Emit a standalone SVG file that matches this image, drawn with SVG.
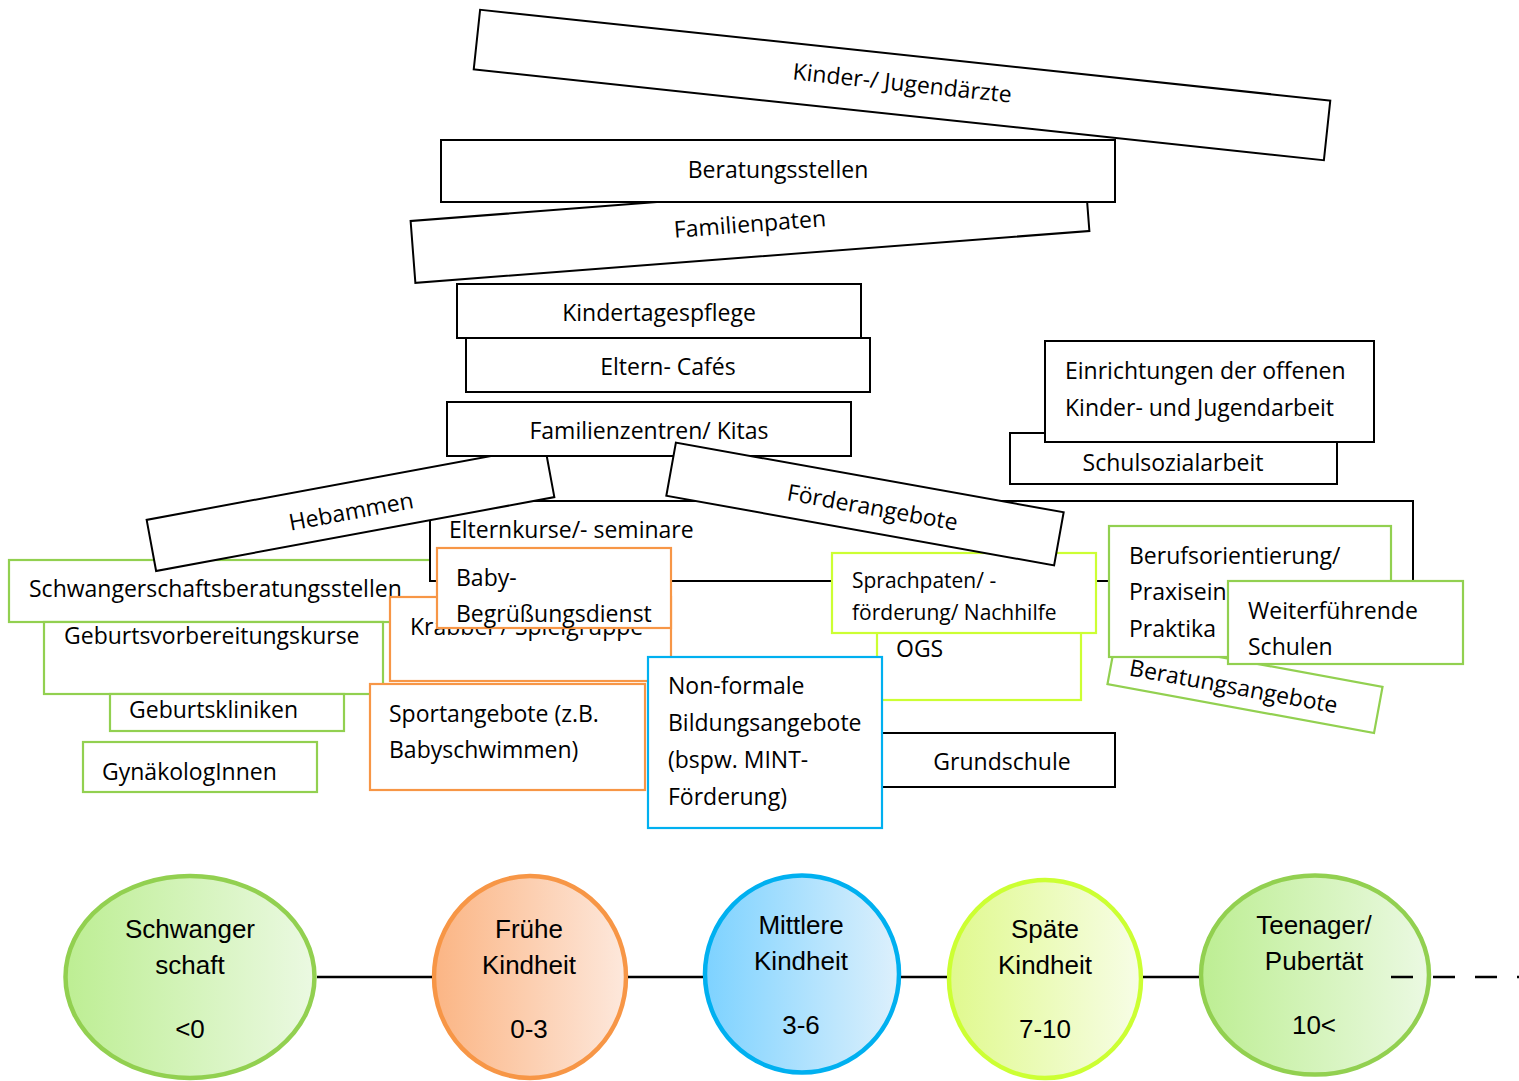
<svg xmlns="http://www.w3.org/2000/svg" width="1519" height="1081" viewBox="0 0 1519 1081">
<style>
.b{fill:#fff;stroke:#000;stroke-width:2}
.g{fill:#fff;stroke:#92d050;stroke-width:2.2}
.o{fill:#fff;stroke:#f79646;stroke-width:2.2}
.c{fill:#fff;stroke:#00b0f0;stroke-width:2.2}
.y{fill:#fff;stroke:#ccff33;stroke-width:2.2}
.t{font-family:"Open Sans","Noto Sans",sans-serif;font-size:23px;fill:#000}
.s{font-family:"Open Sans","Noto Sans",sans-serif;font-size:21px;fill:#000}
.m{text-anchor:middle}
.e{font-family:"Liberation Sans",Arial,sans-serif;font-size:26px;fill:#000;text-anchor:middle}
.ln{stroke:#000;stroke-width:2.5;fill:none}
</style>
<defs>
<linearGradient id="gG" x1="0" y1="0" x2="1" y2="0"><stop offset="0" stop-color="#bdee93"/><stop offset="1" stop-color="#ebf9e2"/></linearGradient>
<linearGradient id="gO" x1="0" y1="0" x2="1" y2="0"><stop offset="0" stop-color="#fbb584"/><stop offset="1" stop-color="#fde8dc"/></linearGradient>
<linearGradient id="gB" x1="0" y1="0" x2="1" y2="0"><stop offset="0" stop-color="#7dd2ff"/><stop offset="1" stop-color="#ddf0fc"/></linearGradient>
<linearGradient id="gY" x1="0" y1="0" x2="1" y2="0"><stop offset="0" stop-color="#e0f98e"/><stop offset="1" stop-color="#f7fde6"/></linearGradient>
</defs>

<g id="kinderaerzte" transform="translate(902,85) rotate(6.1)"><rect class="b" x="-427.5" y="-30" width="855" height="60"/><text class="t m" x="0" y="6">Kinder-/ Jugendärzte</text></g>
<g id="familienpaten" transform="translate(750,226) rotate(-4.4)"><rect class="b" x="-338" y="-31" width="676" height="62"/><text class="t m" x="0" y="6">Familienpaten</text></g>
<g id="beratungsstellen"><rect class="b" x="441" y="140" width="674" height="62"/><text class="t m" x="778" y="178">Beratungsstellen</text></g>
<g id="kindertagespflege"><rect class="b" x="457" y="284" width="404" height="54"/><text class="t m" x="659" y="321">Kindertagespflege</text></g>
<g id="elterncafes"><rect class="b" x="466" y="338" width="404" height="54"/><text class="t m" x="668" y="375">Eltern- Cafés</text></g>

<g id="schwangerschaftsberatung"><rect class="g" x="9" y="560" width="440" height="62"/><text class="t" x="29" y="597">Schwangerschaftsberatungsstellen</text></g>
<g id="elternkurse"><rect class="b" x="430" y="501" width="983" height="80"/><text class="t" x="449" y="538">Elternkurse/- seminare</text></g>
<g id="hebammen" transform="translate(350.5,508.5) rotate(-10.5)"><rect class="b" x="-202.5" y="-26" width="405" height="52"/><text class="t m" x="0" y="11">Hebammen</text></g>
<g id="familienzentren"><rect class="b" x="447" y="402" width="404" height="54"/><text class="t m" x="649" y="439">Familienzentren/ Kitas</text></g>

<g id="schulsozialarbeit"><rect class="b" x="1010" y="433" width="327" height="51"/><text class="t m" x="1173" y="471">Schulsozialarbeit</text></g>
<g id="offene-jugendarbeit"><rect class="b" x="1045" y="341" width="329" height="101"/><text class="t" x="1065" y="379">Einrichtungen der offenen</text><text class="t" x="1065" y="416">Kinder- und Jugendarbeit</text></g>

<g id="geburtsvorbereitung"><rect class="g" x="44" y="622" width="339" height="72"/><text class="t" x="64" y="644">Geburtsvorbereitungskurse</text></g>
<g id="geburtskliniken"><rect class="g" x="110" y="694" width="234" height="37"/><text class="t" x="129" y="718">Geburtskliniken</text></g>
<g id="gynaekologinnen"><rect class="g" x="83" y="742" width="234" height="50"/><text class="t" x="102" y="780">GynäkologInnen</text></g>

<g id="krabbelgruppe"><rect class="o" x="390" y="597" width="281" height="84"/><text class="t" x="410" y="635">Krabbel-/ Spielgruppe</text></g>
<g id="babybegruessung"><rect class="o" x="437" y="548" width="234" height="80"/><text class="t" x="456" y="586">Baby-</text><text class="t" x="456" y="622">Begrüßungsdienst</text></g>
<g id="sportangebote"><rect class="o" x="370" y="684" width="275" height="106"/><text class="t" x="389" y="722">Sportangebote (z.B.</text><text class="t" x="389" y="758">Babyschwimmen)</text></g>

<g id="beratungsangebote" transform="translate(1245,685.5) rotate(10.4)"><rect class="g" x="-135.5" y="-23.5" width="271" height="47"/><text class="t m" x="-11" y="11">Beratungsangebote</text></g>
<g id="berufsorientierung"><rect class="g" x="1109" y="526" width="282" height="131"/><text class="t" x="1129" y="564">Berufsorientierung/</text><text class="t" x="1129" y="600">Praxisein</text><text class="t" x="1129" y="637">Praktika</text></g>
<g id="weiterfuehrende-schulen"><rect class="g" x="1228" y="581" width="235" height="83"/><text class="t" x="1248" y="619">Weiterführende</text><text class="t" x="1248" y="655">Schulen</text></g>

<g id="grundschule"><rect class="b" x="860" y="733" width="255" height="54"/><text class="t m" x="1002" y="770">Grundschule</text></g>
<g id="ogs"><rect class="y" x="877" y="600" width="204" height="100"/><text class="t" x="896" y="657">OGS</text></g>
<g id="sprachpaten"><rect class="y" x="832" y="553" width="264" height="80"/><text class="s" x="852" y="588">Sprachpaten/ -</text><text class="s" x="852" y="620">förderung/ Nachhilfe</text></g>
<g id="foerderangebote" transform="translate(865,504) rotate(10.2)"><rect class="b" x="-197" y="-27" width="394" height="54"/><text class="t m" x="8" y="10">Förderangebote</text></g>
<g id="nonformale-bildung"><rect class="c" x="648" y="657" width="234" height="171"/><text class="t" x="668" y="694">Non-formale</text><text class="t" x="668" y="731">Bildungsangebote</text><text class="t" x="668" y="768">(bspw. MINT-</text><text class="t" x="668" y="805">Förderung)</text></g>

<g id="phase-schwangerschaft"><ellipse cx="190" cy="977" rx="124.5" ry="101" fill="url(#gG)" stroke="#92d050" stroke-width="4.5"/><text class="e" x="190" y="938">Schwanger</text><text class="e" x="190" y="974">schaft</text><text class="e" x="190" y="1038">&lt;0</text></g>
<g id="phase-fruehe"><ellipse cx="530" cy="977" rx="96" ry="101" fill="url(#gO)" stroke="#f79646" stroke-width="4.5"/><text class="e" x="529" y="938">Frühe</text><text class="e" x="529" y="974">Kindheit</text><text class="e" x="529" y="1038">0-3</text></g>
<g id="phase-mittlere"><ellipse cx="802" cy="974" rx="97" ry="98.5" fill="url(#gB)" stroke="#00b0f0" stroke-width="4.5"/><text class="e" x="801" y="934">Mittlere</text><text class="e" x="801" y="970">Kindheit</text><text class="e" x="801" y="1034">3-6</text></g>
<g id="phase-spaete"><ellipse cx="1045" cy="979" rx="96" ry="99" fill="url(#gY)" stroke="#ccff33" stroke-width="4.5"/><text class="e" x="1045" y="938">Späte</text><text class="e" x="1045" y="974">Kindheit</text><text class="e" x="1045" y="1038">7-10</text></g>
<g id="phase-teenager"><ellipse cx="1315" cy="975" rx="114" ry="99.5" fill="url(#gG)" stroke="#92d050" stroke-width="4.5"/><text class="e" x="1314" y="934">Teenager/</text><text class="e" x="1314" y="970">Pubertät</text><text class="e" x="1314" y="1034">10&lt;</text></g>

<g id="connectors">
<line class="ln" x1="317" y1="977" x2="432" y2="977"/>
<line class="ln" x1="628" y1="977" x2="703" y2="977"/>
<line class="ln" x1="901" y1="977" x2="947" y2="977"/>
<line class="ln" x1="1143" y1="977" x2="1199" y2="977"/>
<line class="ln" x1="1391" y1="977" x2="1519" y2="977" stroke-dasharray="22 20"/>
</g>
</svg>
